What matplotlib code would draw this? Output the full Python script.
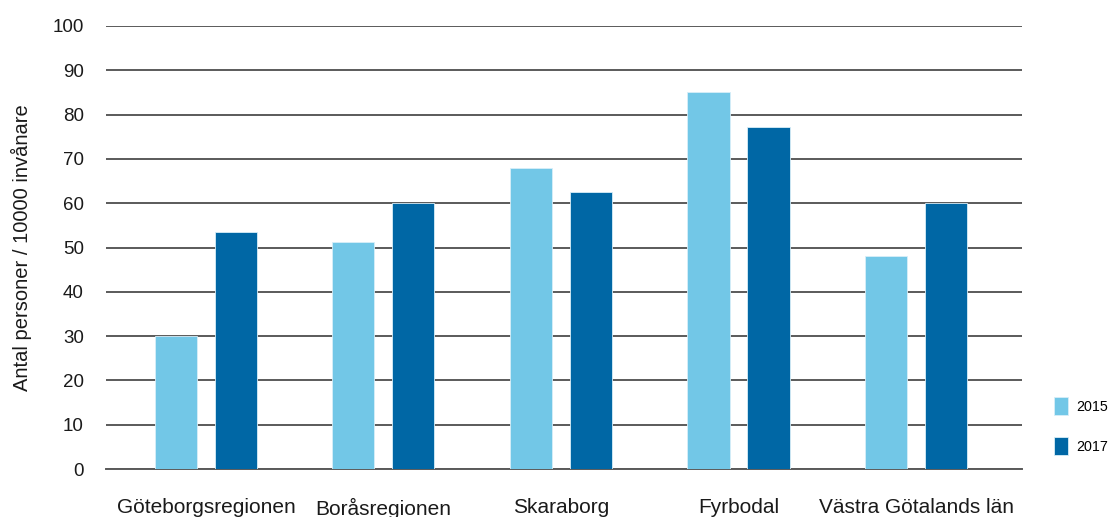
import numpy as np
import matplotlib
matplotlib.use("Agg")
import matplotlib.pyplot as plt

# data
regions = ["Göteborgsregionen", "Boråsregionen", "Skaraborg", "Fyrbodal", "Västra Götalands län"]
values_2015 = [30.0, 51.2, 67.9, 85.1, 48.1]
values_2017 = [53.5, 60.0, 62.5, 77.2, 60.0]
years = ["2015", "2017"]
yticks = [0, 10, 20, 30, 40, 50, 60, 70, 80, 90, 100]

light = "#72c7e7"
dark = "#0067a5"

plt.rcParams['font.family'] = ['Liberation Sans', 'DejaVu Sans']

fig = plt.figure(figsize=(11.12, 5.17), dpi=100)
ax = fig.add_axes([106/1112, 1-469/517, (1022-106)/1112, (469-26)/517])

x = np.arange(len(regions))
w = 0.237
off = 0.169
ax.bar(x - off, values_2015, w, color=light, edgecolor="#d8eef8", linewidth=0.6, zorder=3, label=years[0])
ax.bar(x + off, values_2017, w, color=dark, edgecolor="#d8eef8", linewidth=0.6, zorder=3, label=years[1])

ax.set_ylim(0, 100)
ax.set_xlim(-0.563, 4.597)
ax.set_yticks(yticks)
ax.yaxis.grid(True, color="#5a5a5a", linewidth=1.4, zorder=0)
ax.set_axisbelow(True)
for s in ["top", "right", "left"]:
    ax.spines[s].set_visible(False)
ax.spines["bottom"].set_color("#5a5a5a")
ax.spines["bottom"].set_linewidth(1.4)
ax.tick_params(axis="y", length=0, pad=16, labelsize=13.5, labelcolor="#1a1a1a")
ax.tick_params(axis="x", length=0, pad=21, labelsize=15, labelcolor="#1a1a1a")
ax.set_xticks(x)
ax.set_xticklabels(regions)
ax.set_ylabel("Antal personer / 10000 invånare", fontsize=14.5, color="#1a1a1a", labelpad=15)

fig.legend(loc="upper left", bbox_to_anchor=(1044/1112, 1-387/517), frameon=False,
           fontsize=10.3, handlelength=1.0, handleheight=1.6, labelspacing=1.5,
           handletextpad=0.55, borderaxespad=0.3)

fig.savefig("out.png", dpi=100)
